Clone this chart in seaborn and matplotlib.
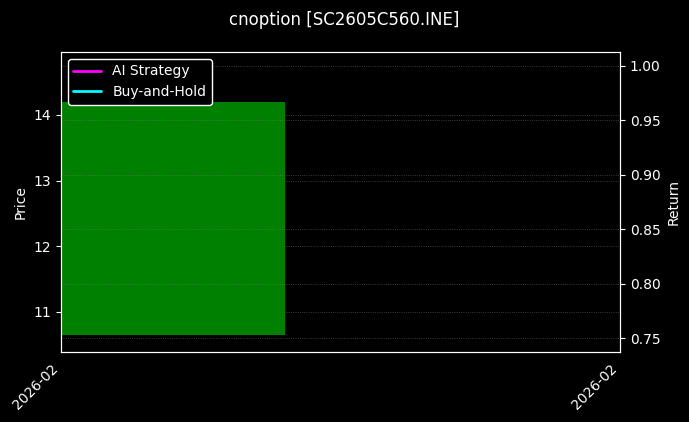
import matplotlib
matplotlib.use("Agg")
import matplotlib.pyplot as plt
import seaborn as sns
import pandas as pd

# candle body (one bar) and axis labels
candle_open = [10.65]
candle_close = [14.2]
candle_pos = [0.0]
candle_width = 0.4
tick_labels = ["2026-02", "2026-02"]
series_names = ["AI Strategy", "Buy-and-Hold"]
series_colors = ["magenta", "cyan"]
return_range = [0.75, 1.0]

sns.set_style("dark")
plt.style.use("dark_background")
plt.rcParams["font.family"] = ["DejaVu Sans"]

fig, ax = plt.subplots(figsize=(6.89, 4.22), dpi=100)
fig.subplots_adjust(left=0.0885, right=0.900, top=0.877, bottom=0.166)

df = pd.DataFrame({"x": candle_pos, "open": candle_open, "close": candle_close})
ax.bar(df["x"], df["close"] - df["open"], bottom=df["open"], width=candle_width,
       align="edge", color="green", edgecolor="none", linewidth=0)
ax.set_xlim(0, 1)
ax.set_ylim(10.39, 14.96)
ax.set_ylabel("Price")
ax.set_xticks([0, 1])
ax.set_xticklabels(tick_labels, rotation=45, ha="right")
ax.grid(True, ls=":", color="gray", lw=0.6, alpha=0.6)

ax2 = ax.twinx()
for name, c in zip(series_names, series_colors):
    ax2.plot([], [], color=c, lw=2, label=name)
pad = (return_range[1] - return_range[0]) * 0.05
ax2.set_ylim(return_range[0] - pad, return_range[1] + pad)
ax2.set_ylabel("Return")
ax2.grid(True, ls=":", color="gray", lw=0.6, alpha=0.6)

for a in (ax, ax2):
    for s in a.spines.values():
        s.set_color("white")

leg = ax2.legend(loc="upper left", facecolor="black", edgecolor="white", framealpha=1)

fig.suptitle("cnoption [SC2605C560.INE]", fontsize=12, y=0.975)
fig.savefig("out.png", facecolor="black")
